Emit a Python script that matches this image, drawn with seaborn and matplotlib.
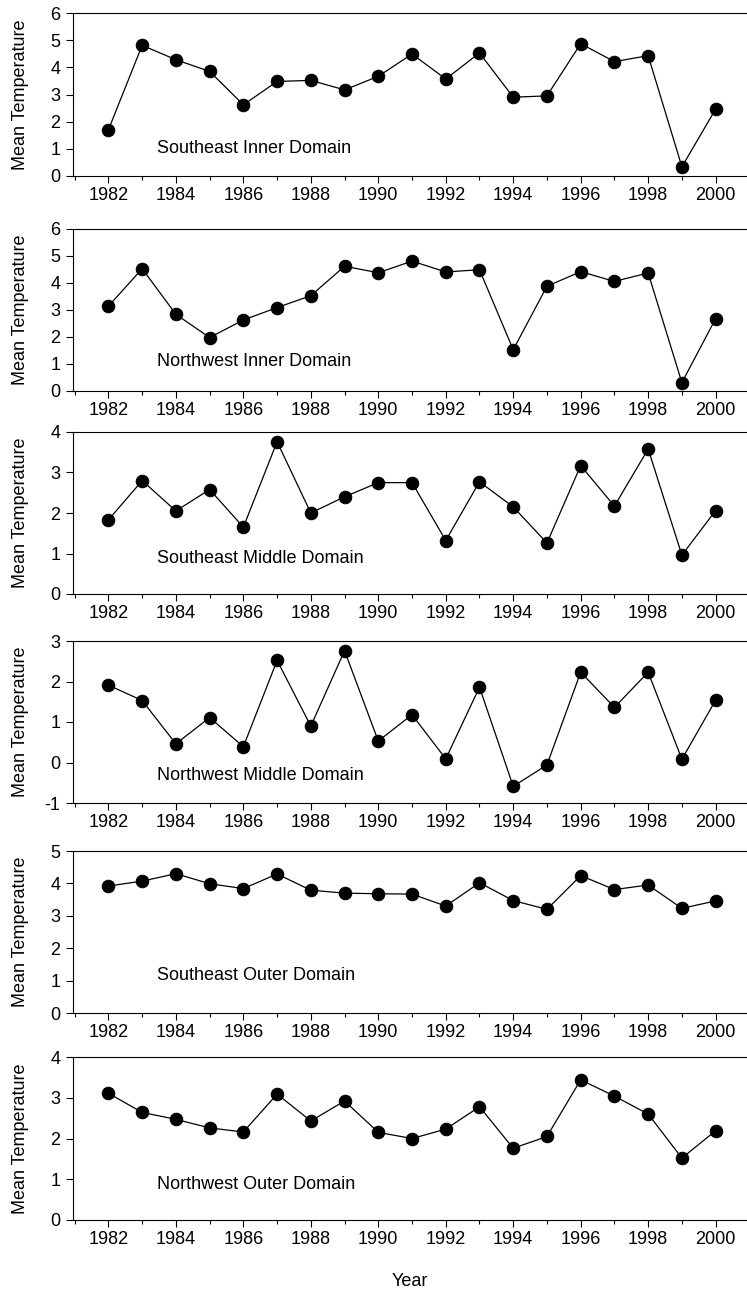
import pandas as pd
import matplotlib.pyplot as plt
import seaborn as sns
from matplotlib.ticker import MultipleLocator

years = list(range(1982, 2001))

se_inner = [1.70, 4.81, 4.28, 3.85, 2.62, 3.48, 3.52, 3.17, 3.67, 4.49,
            3.57, 4.53, 2.90, 2.95, 4.87, 4.21, 4.43, 0.34, 2.46]
nw_inner = [3.14, 4.53, 2.84, 1.98, 2.63, 3.09, 3.53, 4.62, 4.38, 4.81,
            4.41, 4.49, 1.53, 3.88, 4.42, 4.06, 4.37, 0.31, 2.68]
se_middle = [1.83, 2.80, 2.05, 2.58, 1.65, 3.76, 2.00, 2.40, 2.75, 2.75,
             1.32, 2.77, 2.15, 1.26, 3.17, 2.17, 3.58, 0.96, 2.06]
nw_middle = [1.91, 1.53, 0.46, 1.11, 0.39, 2.52, 0.90, 2.76, 0.53, 1.18,
             0.09, 1.86, -0.59, -0.06, 2.23, 1.36, 2.23, 0.08, 1.54]
se_outer = [3.92, 4.07, 4.30, 3.99, 3.84, 4.29, 3.79, 3.70, 3.68, 3.67,
            3.30, 4.02, 3.47, 3.20, 4.24, 3.81, 3.95, 3.23, 3.46]
nw_outer = [3.11, 2.64, 2.47, 2.26, 2.16, 3.09, 2.43, 2.92, 2.15, 2.00,
            2.23, 2.78, 1.76, 2.05, 3.44, 3.04, 2.60, 1.52, 2.19]

panel_names = ['Southeast Inner Domain', 'Northwest Inner Domain',
               'Southeast Middle Domain', 'Northwest Middle Domain',
               'Southeast Outer Domain', 'Northwest Outer Domain']
panel_values = [se_inner, nw_inner, se_middle, nw_middle, se_outer, nw_outer]
y_limits = [(0, 6), (0, 6), (0, 4), (-1, 3), (0, 5), (0, 4)]

sns.set_theme(style='ticks')
plt.rcParams['font.family'] = ['Liberation Sans', 'DejaVu Sans']
plt.rcParams['axes.unicode_minus'] = False
for key in ['text.color', 'axes.labelcolor', 'xtick.color', 'ytick.color']:
    plt.rcParams[key] = 'black'

W, H = 747, 1295
fig = plt.figure(figsize=(W / 100, H / 100), dpi=100)

# panel placement in pixels (top, bottom) and label height in axes fraction
tops = [13, 229, 432, 641, 851, 1057]
bottoms = [176, 391, 594, 803, 1013, 1220]
label_y = [0.17, 0.185, 0.22, 0.17, 0.23, 0.22]
left = 73

for i, (name, vals) in enumerate(zip(panel_names, panel_values)):
    ax = fig.add_axes([left / W, 1 - bottoms[i] / H, (W - left) / W,
                       (bottoms[i] - tops[i]) / H])
    df = pd.DataFrame({'Year': years, 'Temp': vals})
    sns.lineplot(data=df, x='Year', y='Temp', ax=ax, color='black',
                 marker='o', markersize=9, markeredgecolor='black',
                 linewidth=0.9)
    ax.set_xlim(1980.95, 2000.93)
    ax.set_ylim(*y_limits[i])
    ax.xaxis.set_major_locator(MultipleLocator(2))
    ax.xaxis.set_minor_locator(MultipleLocator(1))
    ax.yaxis.set_major_locator(MultipleLocator(1))
    ax.tick_params(axis='x', which='major', length=5, width=0.8,
                   labelsize=13, pad=3)
    ax.tick_params(axis='x', which='minor', length=3, width=0.8)
    ax.tick_params(axis='y', length=5, width=0.8, labelsize=13, pad=4)
    for s in ['left', 'top', 'bottom']:
        ax.spines[s].set_linewidth(0.8)
        ax.spines[s].set_color('black')
    ax.spines['right'].set_visible(False)
    ax.set_ylabel('Mean Temperature', fontsize=13)
    ax.yaxis.set_label_coords(-0.066, 0.5)
    ax.text(0.124, label_y[i], name, transform=ax.transAxes, fontsize=13,
            va='center', ha='left')
    if i == len(panel_names) - 1:
        ax.set_xlabel('Year', fontsize=13, labelpad=18)
    else:
        ax.set_xlabel('')

fig.savefig('out.png', dpi=100)
